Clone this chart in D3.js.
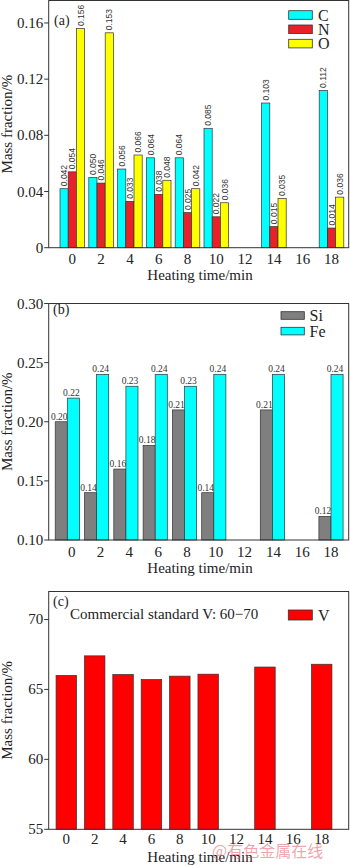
<!DOCTYPE html>
<html>
<head>
<meta charset="utf-8">
<script src="https://cdn.jsdelivr.net/npm/d3@7"></script>
<style>
  body { margin: 0; background: #fff; }
  svg { display: block; }
  .tick-label, .axis-title, .legend-text, .panel-tag, .note { font-family: "Liberation Serif", "Times New Roman", serif; fill: #222; }
</style>
</head>
<body>
<div id="chart-container"></div>
<script>
// heating time categories
const times = [0, 2, 4, 6, 8, 10, 12, 14, 16, 18];

// (a) C, N, O mass fraction /%
const cVals = [0.042, 0.050, 0.056, 0.064, 0.064, 0.085, null, 0.103, null, 0.112];
const nVals = [0.054, 0.046, 0.033, 0.038, 0.025, 0.022, null, 0.015, null, 0.014];
const oVals = [0.156, 0.153, 0.066, 0.048, 0.042, 0.032, null, 0.035, null, 0.036];
const oLabels = ["0.156", "0.153", "0.066", "0.048", "0.042", "0.036", null, "0.035", null, "0.036"];

// (b) Si, Fe
const siVals = [0.20, 0.14, 0.16, 0.18, 0.21, 0.14, null, 0.21, null, 0.12];
const feVals = [0.22, 0.24, 0.23, 0.24, 0.23, 0.24, null, 0.24, null, 0.24];

// (c) V
const vVals = [66.0, 67.4, 66.07, 65.71, 65.95, 66.09, null, 66.6, null, 66.8];

const yTicksA = [0, 0.04, 0.08, 0.12, 0.16];
const yTicksB = [0.10, 0.15, 0.20, 0.25, 0.30];
const yTicksC = [55, 60, 65, 70];

const W = 350, H = 866;
const left = 48.7, right = 348.7;

const svg = d3.select("#chart-container")
    .append("svg")
    .attr("width", W)
    .attr("height", H);

function drawFrame(top, bottom, y, ticks, fmt, xTick, tickBase, titleBase) {
    const g = svg.append("g");
    // y ticks
    ticks.forEach(t => {
        g.append("line")
            .attr("x1", left - 4.5).attr("x2", left)
            .attr("y1", y(t)).attr("y2", y(t))
            .attr("stroke", "#333").attr("stroke-width", 1);
        g.append("text")
            .attr("class", "tick-label")
            .attr("x", left - 5.5)
            .attr("y", y(t) + 5)
            .attr("text-anchor", "end")
            .attr("font-size", 15)
            .text(fmt(t));
    });
    // x labels (no tick marks)
    times.forEach(t => {
        g.append("text")
            .attr("class", "tick-label")
            .attr("x", xTick(t))
            .attr("y", tickBase)
            .attr("text-anchor", "middle")
            .attr("font-size", 15)
            .text(t);
    });
    g.append("text")
        .attr("class", "axis-title")
        .attr("x", 200)
        .attr("y", titleBase)
        .attr("text-anchor", "middle")
        .attr("font-size", 15)
        .text("Heating time/min");
    g.append("text")
        .attr("class", "axis-title")
        .attr("transform", `translate(12, ${(top + bottom) / 2}) rotate(-90)`)
        .attr("text-anchor", "middle")
        .attr("font-size", 15)
        .text("Mass fraction/%");
    return g;
}

function box(top, bottom) {
    svg.append("rect")
        .attr("x", left).attr("y", top)
        .attr("width", right - left).attr("height", bottom - top)
        .attr("fill", "none")
        .attr("stroke", "#333").attr("stroke-width", 1);
}

function legend(items, x, y0, dy, boxW, boxH, textX) {
    items.forEach((it, i) => {
        svg.append("rect")
            .attr("x", x).attr("y", y0 + i * dy)
            .attr("width", boxW).attr("height", boxH)
            .attr("fill", it.color)
            .attr("stroke", "#333").attr("stroke-width", 0.8);
        svg.append("text")
            .attr("class", "legend-text")
            .attr("x", textX)
            .attr("y", y0 + i * dy + boxH / 2 + 5.5)
            .attr("font-size", 16)
            .text(it.name);
    });
}

// ---------- panel (a) ----------
{
    const top = 0.5, bottom = 247.7;
    const y = d3.scaleLinear().domain([0, 0.176]).range([bottom, top]);
    const x = d3.scaleLinear().domain([0, 18]).range([72.3, 331.5]);
    const barW = 8.2;
    drawFrame(top, bottom, y, yTicksA, d => d === 0 ? "0" : d3.format(".2f")(d), x, 264, 279.5);

    const series = [
        {name: "C", color: "#00ffff", vals: cVals, labels: cVals.map(v => v == null ? null : d3.format(".3f")(v))},
        {name: "N", color: "#e8202a", vals: nVals, labels: nVals.map(v => v == null ? null : d3.format(".3f")(v))},
        {name: "O", color: "#ffff00", vals: oVals, labels: oLabels}
    ];
    series.forEach((s, k) => {
        const data = times.map((t, i) => ({t, v: s.vals[i], lab: s.labels[i]})).filter(d => d.v != null);
        const bx = d => x(d.t) - 1.5 * barW + k * barW;
        svg.append("g").selectAll("rect")
            .data(data)
            .join("rect")
            .attr("x", bx)
            .attr("y", d => y(d.v))
            .attr("width", barW)
            .attr("height", d => bottom - y(d.v))
            .attr("fill", s.color)
            .attr("stroke", "#333").attr("stroke-width", 0.7);
        svg.append("g").selectAll("text")
            .data(data)
            .join("text")
            .attr("transform", d => `translate(${bx(d) + barW / 2 + 3}, ${y(d.v) - 2.5}) rotate(-90)`)
            .attr("font-family", "'Liberation Sans Narrow', 'Liberation Sans', sans-serif")
            .attr("font-size", 8.5)
            .attr("fill", "#333")
            .text(d => d.lab);
    });
    box(top, bottom);
    svg.append("text").attr("class", "panel-tag")
        .attr("x", 54).attr("y", 25).attr("font-size", 14).text("(a)");
    legend(series, 288.7, 10.7, 14.3, 23.6, 8.6, 318);
}

// ---------- panel (b) ----------
{
    const top = 303.5, bottom = 540;
    const y = d3.scaleLinear().domain([0.10, 0.30]).range([bottom, top]);
    const xTick = d3.scaleLinear().domain([0, 18]).range([71.7, 331]);
    const x = d3.scaleLinear().domain([0, 18]).range([67.3, 331]);
    const barW = 12.1;
    drawFrame(top, bottom, y, yTicksB, d3.format(".2f"), xTick, 556.5, 573);

    const series = [
        {name: "Si", color: "#7f7f7f", vals: siVals},
        {name: "Fe", color: "#00ffff", vals: feVals}
    ];
    series.forEach((s, k) => {
        const data = times.map((t, i) => ({t, v: s.vals[i]})).filter(d => d.v != null);
        const bx = d => x(d.t) - barW + k * barW;
        svg.append("g").selectAll("rect")
            .data(data)
            .join("rect")
            .attr("x", bx)
            .attr("y", d => y(d.v))
            .attr("width", barW)
            .attr("height", d => bottom - y(d.v))
            .attr("fill", s.color)
            .attr("stroke", "#333").attr("stroke-width", 0.7);
        svg.append("g").selectAll("text")
            .data(data)
            .join("text")
            .attr("x", d => bx(d) + barW / 2 - 2)
            .attr("y", d => y(d.v) - 2)
            .attr("text-anchor", "middle")
            .attr("font-family", "'Liberation Serif', serif")
            .attr("font-size", 9.5)
            .attr("fill", "#333")
            .text(d => d3.format(".2f")(d.v));
    });
    box(top, bottom);
    svg.append("text").attr("class", "panel-tag")
        .attr("x", 53).attr("y", 314).attr("font-size", 14).text("(b)");
    legend(series, 281, 311.7, 15.6, 23.3, 7.6, 309.5);
}

// ---------- panel (c) ----------
{
    const top = 591.5, bottom = 829.3;
    const y = d3.scaleLinear().domain([55, 72]).range([bottom, top]);
    const x = d3.scaleLinear().domain([0, 18]).range([66.3, 321.7]);
    const barW = 20.5;
    drawFrame(top, bottom, y, yTicksC, d3.format("d"), x, 843.5, 862);

    const data = times.map((t, i) => ({t, v: vVals[i]})).filter(d => d.v != null);
    svg.append("g").selectAll("rect")
        .data(data)
        .join("rect")
        .attr("x", d => x(d.t) - barW / 2)
        .attr("y", d => y(d.v))
        .attr("width", barW)
        .attr("height", d => bottom - y(d.v))
        .attr("fill", "#ff0000")
        .attr("stroke", "#333").attr("stroke-width", 0.7);
    box(top, bottom);
    svg.append("text").attr("class", "panel-tag")
        .attr("x", 53).attr("y", 606).attr("font-size", 14).text("(c)");
    svg.append("text").attr("class", "note")
        .attr("x", 70).attr("y", 619).attr("font-size", 15)
        .text("Commercial standard V: 60\u221270");
    legend([{name: "V", color: "#ff0000"}], 288.3, 610, 0, 24, 10, 318);
}

// watermark
svg.append("text")
    .attr("x", 212).attr("y", 857)
    .attr("font-family", "'Noto Sans CJK SC', sans-serif")
    .attr("font-size", 16)
    .attr("fill", "rgba(220, 90, 100, 0.55)")
    .text("@有色金属在线");
</script>
</body>
</html>
